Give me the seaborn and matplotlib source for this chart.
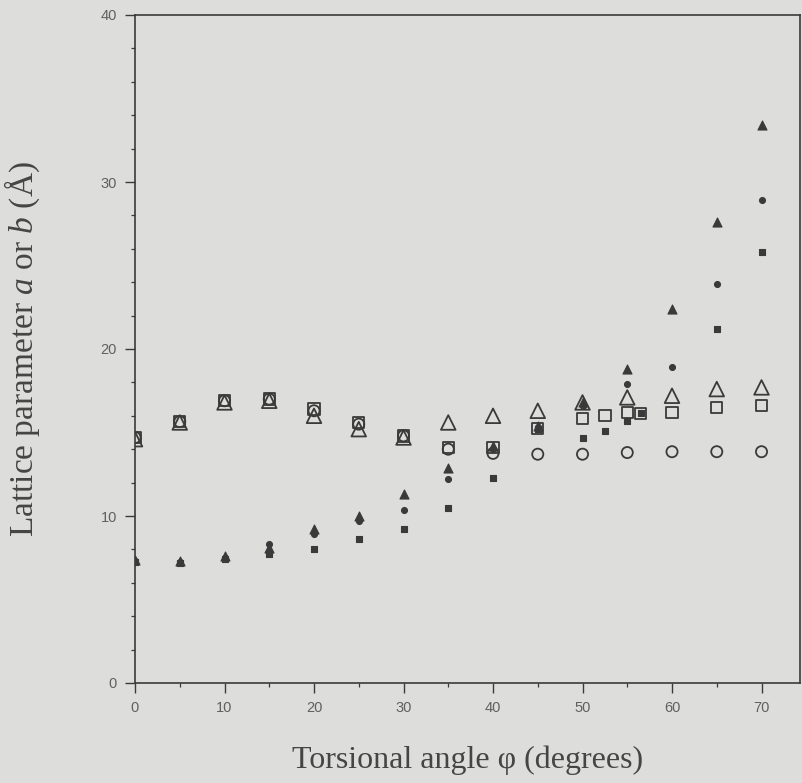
import numpy as np
import pandas as pd
import matplotlib
matplotlib.use("Agg")
import matplotlib.pyplot as plt
import seaborn as sns
from matplotlib.ticker import MultipleLocator

# ---- data ----
angles = [0, 5, 10, 15, 20, 25, 30, 35, 40, 45, 50, 55, 60, 65, 70]
sq_angles = [0, 5, 10, 15, 20, 25, 30, 35, 40, 45, 50, 52.5, 55, 56.5, 60, 65, 70]
fsq_angles = [0, 5, 10, 15, 20, 25, 30, 35, 40, 45, 50, 52.5, 55, 56.5, 65, 70]

open_square = [14.7, 15.65, 16.9, 17.0, 16.4, 15.6, 14.8, 14.1, 14.1, 15.25, 15.85,
               16.0, 16.2, 16.15, 16.2, 16.5, 16.6]
open_triangle = [14.6, 15.6, 16.8, 16.9, 16.0, 15.2, 14.7, 15.6, 16.0, 16.3, 16.8,
                 17.1, 17.2, 17.6, 17.7]
open_circle = [14.7, 15.65, 16.9, 17.0, 16.3, 15.5, 14.8, 14.0, 13.75, 13.7, 13.7,
               13.8, 13.85, 13.85, 13.85]
filled_triangle = [7.35, 7.3, 7.6, 8.1, 9.2, 10.0, 11.3, 12.9, 14.2, 15.4, 16.8,
                   18.8, 22.4, 27.6, 33.4]
filled_circle = [7.3, 7.25, 7.5, 8.35, 8.9, 9.7, 10.35, 12.2, 14.0, 15.3, 16.6,
                 17.9, 18.9, 23.9, 28.9]
filled_square = [7.25, 7.2, 7.45, 7.75, 8.05, 8.6, 9.2, 10.5, 12.25, 15.2, 14.7,
                 15.1, 15.7, 16.15, 21.2, 25.8]

x_ticks = [0, 10, 20, 30, 40, 50, 60, 70]
y_ticks = [0, 10, 20, 30, 40]

# ---- style ----
sns.set_style("ticks")
plt.rcParams["font.family"] = ["Liberation Serif", "DejaVu Serif"]
plt.rcParams["mathtext.fontset"] = "custom"
plt.rcParams["mathtext.it"] = "Liberation Serif:italic"
plt.rcParams["mathtext.rm"] = "Liberation Serif"

BG = "#dddddb"
INK = "#3a3a3a"

fig = plt.figure(figsize=(8.03, 7.83), dpi=100, facecolor=BG)
ax = fig.add_axes([135 / 803, 100 / 783, 665 / 803, 668 / 783])
ax.set_facecolor(BG)

def open_series(xv, yv, marker, size):
    df = pd.DataFrame({"x": xv, "y": yv})
    sns.scatterplot(data=df, x="x", y="y", marker=marker, s=size ** 2, ax=ax,
                    facecolor="none", edgecolor=INK, linewidth=1.3, zorder=3)

def filled_series(xv, yv, marker, size):
    df = pd.DataFrame({"x": xv, "y": yv})
    sns.scatterplot(data=df, x="x", y="y", marker=marker, s=size ** 2, ax=ax,
                    color=INK, edgecolor=INK, linewidth=0.8, zorder=4)

open_series(sq_angles, open_square, "s", 8.2)
open_series(angles, open_triangle, "^", 10.5)
open_series(angles, open_circle, "o", 8.0)
filled_series(angles, filled_triangle, "^", 6.5)
filled_series(angles, filled_circle, "o", 4.3)
filled_series(fsq_angles, filled_square, "s", 4.3)

ax.set_xlim(0, 74.3)
ax.set_ylim(0, 40)
ax.set_xticks(x_ticks)
ax.set_yticks(y_ticks)
ax.xaxis.set_minor_locator(MultipleLocator(5))
ax.yaxis.set_minor_locator(MultipleLocator(2))
ax.tick_params(which="major", direction="out", length=7, width=1.0, color=INK,
               labelsize=10.5, labelcolor="#606060", pad=6)
ax.tick_params(which="minor", direction="out", length=3, width=0.9, color=INK)
for lab in ax.get_xticklabels() + ax.get_yticklabels():
    lab.set_fontfamily("Liberation Sans")

for sp in ax.spines.values():
    sp.set_visible(True)
    sp.set_color(INK)
    sp.set_linewidth(1.2)

ax.set_xlabel("Torsional angle φ (degrees)", fontsize=23, color="#454545", labelpad=22)
ax.set_ylabel(r"Lattice parameter $a$ or $b$ (Å)", fontsize=24, color="#454545", labelpad=42)

fig.savefig("out.png", dpi=100, facecolor=BG)
